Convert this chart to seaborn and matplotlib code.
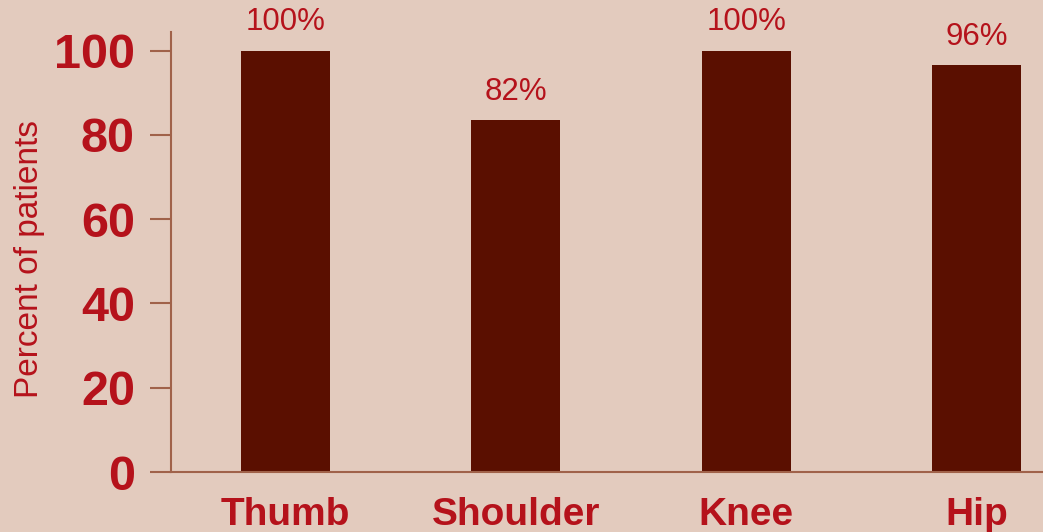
import pandas as pd
import matplotlib
matplotlib.use("Agg")
import matplotlib.pyplot as plt
import seaborn as sns

# Chart values
joints = ["Thumb", "Shoulder", "Knee", "Hip"]
percent = [100, 83.5, 100, 96.5]
bar_labels = ["100%", "82%", "100%", "96%"]
y_ticks = [0, 20, 40, 60, 80, 100]

bg = "#E3CBBE"
bar_color = "#5A0F00"
text_red = "#B5121B"
spine_color = "#A0624A"

df = pd.DataFrame({"joint": joints, "percent": percent})

sns.set_theme(style="white")
plt.rcParams["font.family"] = ["Liberation Sans", "DejaVu Sans"]

fig = plt.figure(figsize=(10.43, 5.32), dpi=100, facecolor=bg)
ax = fig.add_axes([171 / 1043, 60 / 532, 1 - 171 / 1043, 440 / 532])
ax.set_facecolor(bg)

sns.barplot(data=df, x="joint", y="percent", order=joints, color=bar_color,
            width=0.387, saturation=1, linewidth=0, ax=ax)

# Labels above the bars
for i, (v, lab) in enumerate(zip(percent, bar_labels)):
    ax.text(i, v + 3.1, lab, ha="center", va="bottom", color=text_red,
            fontsize=22.5)

ax.set_xlim(-0.498, 3.289)
ax.set_ylim(0, 104.4)
ax.set_yticks(y_ticks)
ax.set_yticklabels([str(t) for t in y_ticks], fontsize=35, fontweight="bold",
                   color=text_red)
ax.set_xticks(range(len(joints)))
ax.set_xticklabels(joints, fontsize=28, fontweight="bold", color=text_red)

ax.tick_params(axis="y", length=15, width=1.5, color=spine_color, pad=11,
               left=True)
ax.tick_params(axis="x", length=0, pad=18)

ax.set_xlabel("")
ax.set_ylabel("Percent of patients", fontsize=24, color=text_red)
ax.yaxis.set_label_coords(-0.145, 0.483)

for side in ["top", "right"]:
    ax.spines[side].set_visible(False)
for side in ["left", "bottom"]:
    ax.spines[side].set_color(spine_color)
    ax.spines[side].set_linewidth(1.5)

fig.savefig("out.png", dpi=100, facecolor=bg)
plt.close(fig)
